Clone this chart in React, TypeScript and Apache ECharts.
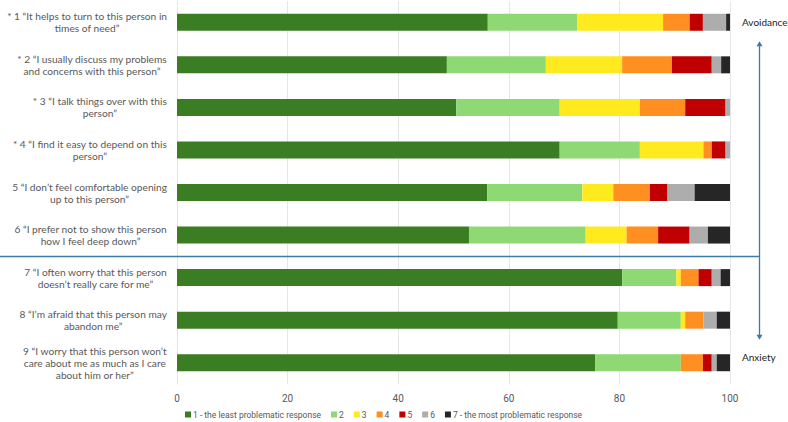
import React, { useEffect, useRef } from "react";
import * as echarts from "echarts";

// Questionnaire items (top to bottom)
const items: string[] = [
  "* 1 “It helps to turn to this person in\ntimes of need”",
  "* 2 “I usually discuss my problems\nand concerns with this person”",
  "* 3 “I talk things over with this\nperson”",
  "* 4 “I find it easy to depend on this\nperson”",
  "5 “I don’t feel comfortable opening\nup to this person”",
  "6 “I prefer not to show this person\nhow I feel deep down”",
  "7 “I often worry that this person\ndoesn’t really care for me”",
  "8 “I’m afraid that this person may\nabandon me”",
  "9 “I worry that this person won’t\ncare about me as much as I care\nabout him or her”",
];

// Response levels
const levels: string[] = [
  "1 - the least problematic response",
  "2",
  "3",
  "4",
  "5",
  "6",
  "7 - the most problematic response",
];

// Share of respondents (%) per level, one value per item
const level1: number[] = [56.2, 48.8, 50.5, 69.2, 56.1, 52.8, 80.5, 79.7, 75.6];
const level2: number[] = [16.2, 17.9, 18.7, 14.5, 17.2, 21.1, 9.8, 11.4, 15.5];
const level3: number[] = [15.5, 13.8, 14.5, 11.5, 5.6, 7.4, 0.8, 0.8, 0];
const level4: number[] = [4.8, 9.0, 8.2, 1.5, 6.6, 5.7, 3.2, 3.3, 4.0];
const level5: number[] = [2.4, 7.2, 7.3, 2.5, 3.2, 5.7, 2.4, 0, 1.6];
const level6: number[] = [4.2, 1.7, 0.8, 0.8, 4.9, 3.3, 1.6, 2.4, 0.9];
const level7: number[] = [0.7, 1.6, 0, 0, 6.4, 4.0, 1.7, 2.4, 2.4];

const levelValues: number[][] = [level1, level2, level3, level4, level5, level6, level7];

const levelColors: string[] = [
  "#3B7D23",
  "#8ED973",
  "#FFEA1F",
  "#FF8F21",
  "#C00000",
  "#ADADAD",
  "#262626",
];

// Dimension annotations on the right
const avoidanceLabel = "Avoidance";
const anxietyLabel = "Anxiety";
const avoidanceItemCount = 6;

const lineColor = "#3A7CA5";
const labelFont = "Lato, 'Open Sans', sans-serif";

export default function App() {
  const ref = useRef<HTMLDivElement>(null);

  useEffect(() => {
    document.body.style.margin = "0";
    if (!ref.current) return;
    const chart = echarts.init(ref.current, undefined, { renderer: "svg" });

    const series = levels.map((name, i) => ({
      name,
      type: "bar" as const,
      stack: "total",
      barWidth: 17,
      data: levelValues[i],
      itemStyle: { color: levelColors[i] },
      emphasis: { disabled: true },
    }));

    chart.setOption({
      animation: false,
      grid: {
        left: 177,
        right: 58,
        top: 1,
        bottom: 38,
        containLabel: false,
        outerBoundsMode: "none",
      },
      xAxis: {
        type: "value",
        min: 0,
        max: 100,
        interval: 20,
        axisLine: { show: false },
        axisTick: { show: false },
        splitLine: { lineStyle: { color: "#E6E6E6", width: 1 } },
        axisLabel: {
          color: "#595959",
          fontFamily: "Roboto, sans-serif",
          fontSize: 10,
          margin: 9,
        },
      },
      yAxis: {
        type: "category",
        inverse: true,
        data: items,
        axisLine: { show: false },
        axisTick: { show: false },
        axisLabel: {
          align: "right",
          margin: 10,
          formatter: (v: string) =>
            v
              .split("\n")
              .map((l) => `{c|${l}}`)
              .join("\n"),
          rich: {
            c: {
              align: "center",
              color: "#595959",
              fontFamily: labelFont,
              fontSize: 10.2,
              lineHeight: 12,
            },
          },
        },
      },
      legend: {
        left: 185,
        bottom: 3,
        padding: 0,
        itemWidth: 6,
        itemHeight: 6,
        itemGap: 10,
        icon: "rect",
        selectedMode: false,
        textStyle: {
          color: "#595959",
          fontFamily: "Roboto, sans-serif",
          fontSize: 8.5,
          padding: [0, 0, 0, -3],
        },
        data: levels,
      },
      series,
    });

    // Separator between the two dimensions and the double-headed arrow
    const yA = chart.convertToPixel({ yAxisIndex: 0 }, avoidanceItemCount - 1) as number;
    const yB = chart.convertToPixel({ yAxisIndex: 0 }, avoidanceItemCount) as number;
    const sepY = Math.round((yA + yB) / 2) + 0.5;
    const yTop = chart.convertToPixel({ yAxisIndex: 0 }, 0) as number;
    const yBottom = chart.convertToPixel({ yAxisIndex: 0 }, items.length - 1) as number;
    const arrowX = 759.5;
    const arrowTop = yTop + 19;
    const arrowBottom = yBottom - 23;

    chart.setOption({
      graphic: [
        {
          type: "line",
          shape: { x1: 0, y1: sepY, x2: arrowX, y2: sepY },
          style: { stroke: lineColor, lineWidth: 1.3 },
          silent: true,
        },
        {
          type: "line",
          shape: { x1: arrowX, y1: arrowTop + 4, x2: arrowX, y2: arrowBottom - 4 },
          style: { stroke: lineColor, lineWidth: 1.3 },
          silent: true,
        },
        {
          type: "polygon",
          shape: {
            points: [
              [arrowX, arrowTop],
              [arrowX - 3, arrowTop + 5],
              [arrowX + 3, arrowTop + 5],
            ],
          },
          style: { fill: lineColor },
          silent: true,
        },
        {
          type: "polygon",
          shape: {
            points: [
              [arrowX, arrowBottom],
              [arrowX - 3, arrowBottom - 5],
              [arrowX + 3, arrowBottom - 5],
            ],
          },
          style: { fill: lineColor },
          silent: true,
        },
        {
          type: "text",
          x: 742,
          y: yTop,
          style: {
            text: avoidanceLabel,
            fill: "#222222",
            font: `10px ${labelFont}`,
            textVerticalAlign: "middle",
          },
          silent: true,
        },
        {
          type: "text",
          x: 742,
          y: yBottom - 6,
          style: {
            text: anxietyLabel,
            fill: "#222222",
            font: `10px ${labelFont}`,
            textVerticalAlign: "middle",
          },
          silent: true,
        },
      ],
    });

    return () => chart.dispose();
  }, []);

  return <div ref={ref} style={{ width: 788, height: 422 }} />;
}
